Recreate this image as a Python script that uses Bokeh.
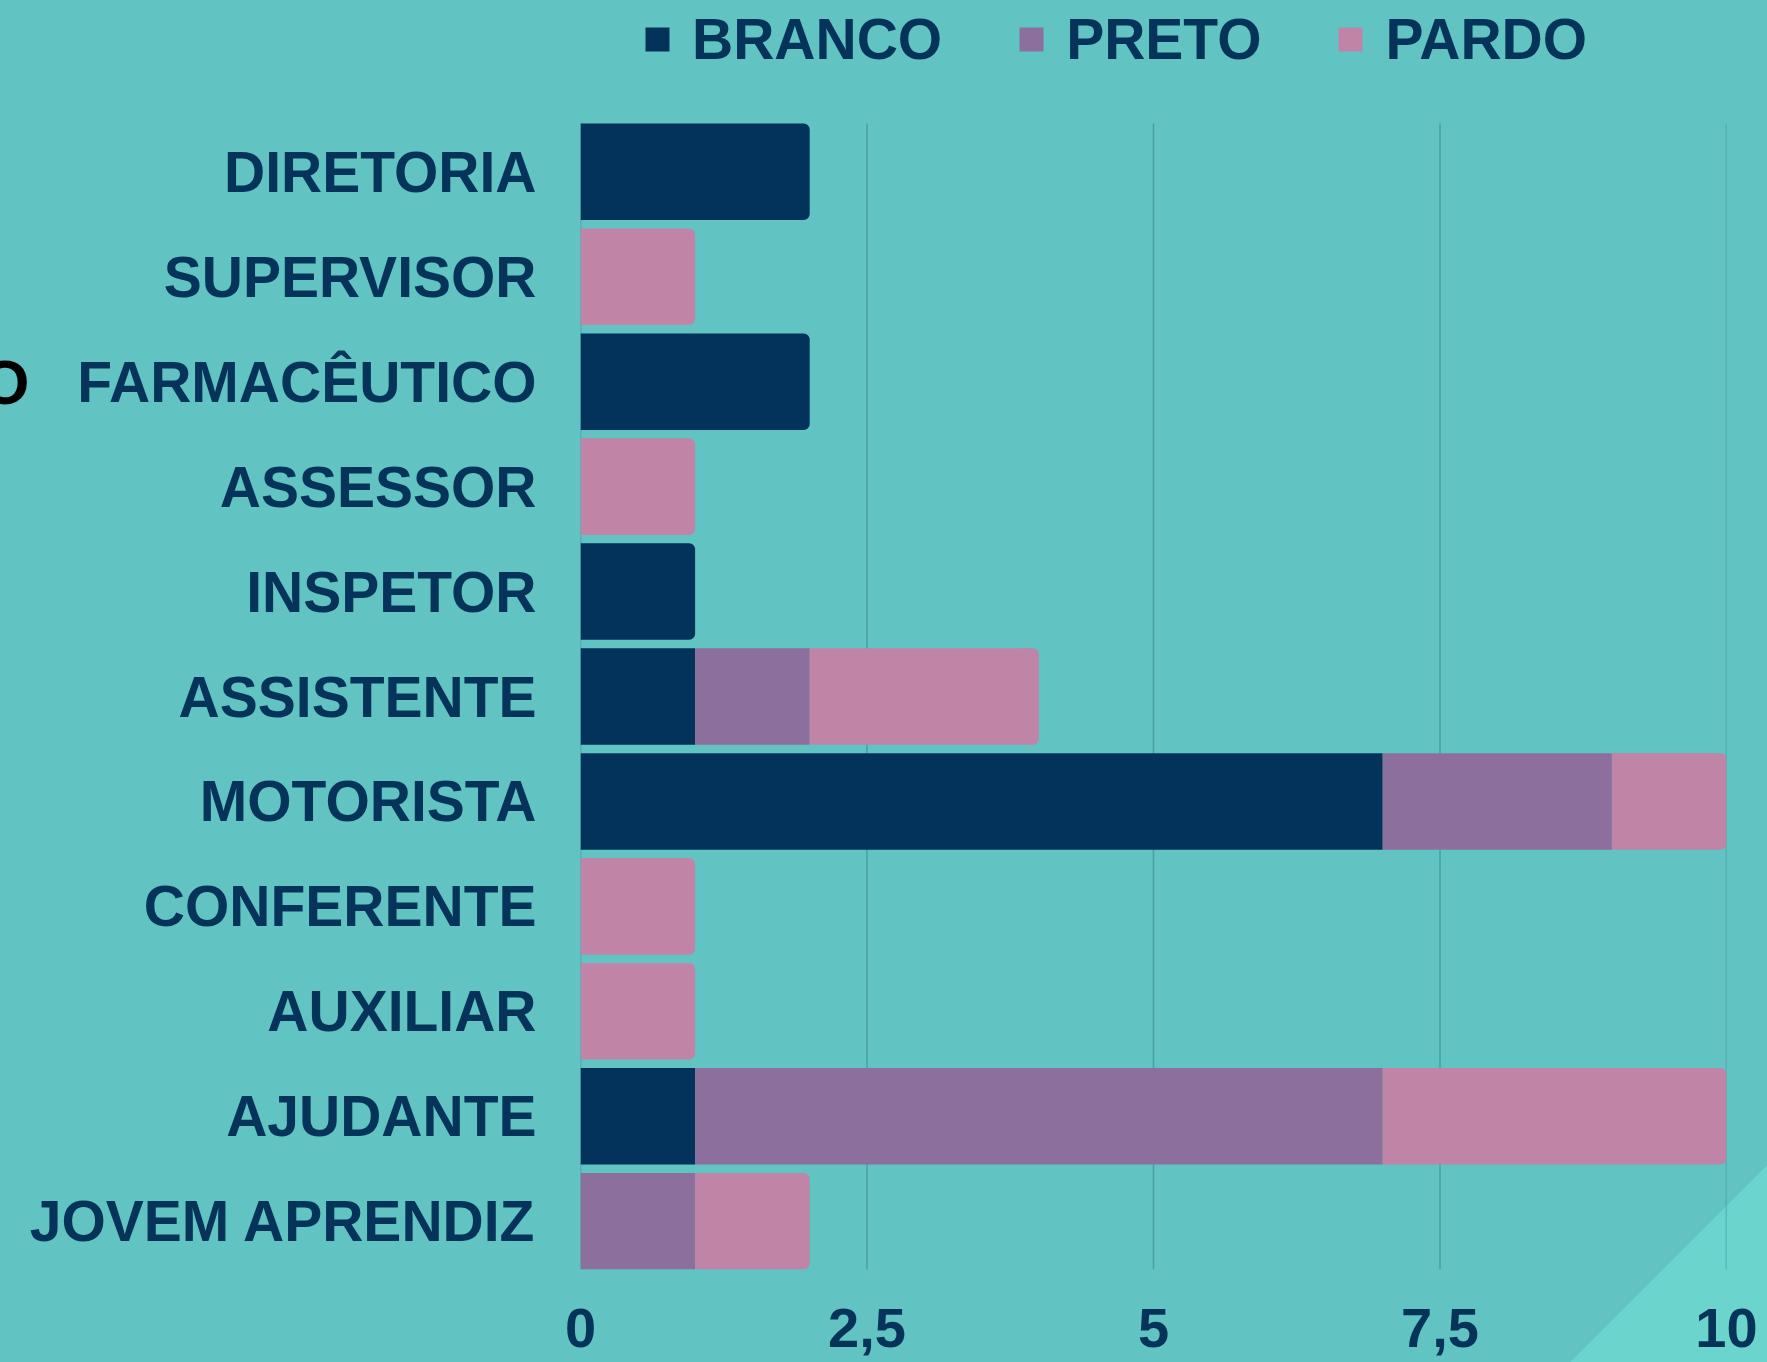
from bokeh.plotting import figure
from bokeh.models import (Range1d, FixedTicker, Legend, LegendItem,
                          ColumnDataSource, LinearAxis)
from bokeh.embed import file_html
from bokeh.resources import INLINE

categories = ["DIRETORIA", "SUPERVISOR", "FARMACÊUTICO", "ASSESSOR", "INSPETOR",
              "ASSISTENTE", "MOTORISTA", "CONFERENTE", "AUXILIAR", "AJUDANTE",
              "JOVEM APRENDIZ"]
series_names = ["BRANCO", "PRETO", "PARDO"]
branco = [2, 0, 2, 0, 1, 1, 7, 0, 0, 1, 0]
preto = [0, 0, 0, 0, 0, 1, 2, 0, 0, 6, 1]
pardo = [0, 1, 0, 1, 0, 2, 1, 1, 1, 3, 1]
x_ticks = [0, 2.5, 5, 7.5, 10]
x_tick_labels = ["0", "2,5", "5", "7,5", "10"]
side_text = "O"
side_text_row = "FARMACÊUTICO"

BG = "#61C3C2"
TRI = "#6BD5CD"
NAVY = "#06335A"
GRID = "#4A9FA5"
colors = ["#03335A", "#8C6F9C", "#BF84A6"]
FONT = "Liberation Sans"
BAR_H = 0.92

SHIFT = 30          # canvas part hidden beyond the page's left edge
W, H = 1767 + SHIFT, 1362
FRAME_LEFT = 580 + SHIFT
BARS_TOP, BARS_BOTTOM = 123, 1269   # pixel extent of the bars
n = len(categories)
gap = (1 - BAR_H) / 2
row_px = (BARS_BOTTOM - BARS_TOP) / (n - 2 * gap)
y_start = gap
y_end = n - gap + BARS_TOP / row_px   # frame reaches the top so the legend is inside

def row_pos(c):
    return n - categories.index(c) - 0.5

p = figure(width=W, height=H, output_backend="svg", toolbar_location=None,
           x_range=Range1d(0, 10), y_range=Range1d(y_start, y_end),
           min_border_left=FRAME_LEFT, min_border_right=41, min_border_top=0,
           min_border_bottom=H - BARS_BOTTOM)
p.background_fill_color = None
p.border_fill_color = None
p.outline_line_color = None
p.styles = {
    "margin-left": f"-{SHIFT}px",
    "background": f"linear-gradient(315deg, {TRI} 139px, {BG} 139px)",
}

# vertical grid lines spanning the bars
p.segment(x0=x_ticks, x1=x_ticks, y0=[gap] * len(x_ticks), y1=[n - gap] * len(x_ticks),
          line_color=GRID, line_width=1.5)

values = [branco, preto, pardo]
legend_items = []
lefts = [0] * n
for si, (name, vals) in enumerate(zip(series_names, values)):
    rest = [sum(v[i] for v in values[si + 1:]) for i in range(n)]
    groups = {True: dict(y=[], left=[], right=[]), False: dict(y=[], left=[], right=[])}
    for i, c in enumerate(categories):
        if vals[i] <= 0:
            continue
        g = groups[rest[i] == 0]
        g["y"].append(row_pos(c))
        g["left"].append(lefts[i])
        g["right"].append(lefts[i] + vals[i])
    legend_r = None
    for last, g in groups.items():
        r = p.hbar(y="y", left="left", right="right", height=BAR_H,
                   source=ColumnDataSource(g), fill_color=colors[si],
                   line_color=None,
                   border_radius=(0, 6, 6, 0) if last else 0)
        if legend_r is None and len(g["y"]) > 0:
            legend_r = r
    legend_items.append(LegendItem(label=name, renderers=[legend_r]))
    lefts = [lefts[i] + vals[i] for i in range(n)]

p.xgrid.grid_line_color = None
p.ygrid.grid_line_color = None

p.xaxis.ticker = FixedTicker(ticks=x_ticks)
p.xaxis.major_label_overrides = {t: l for t, l in zip(x_ticks, x_tick_labels)}
row_ticks = [row_pos(c) for c in categories]
p.yaxis.ticker = FixedTicker(ticks=row_ticks)
p.yaxis.major_label_overrides = {t: c for t, c in zip(row_ticks, categories)}

side_axis = LinearAxis(ticker=FixedTicker(ticks=[row_pos(side_text_row)]),
                       major_label_overrides={row_pos(side_text_row): side_text})
p.add_layout(side_axis, "left")

for ax in (p.xaxis[0], p.yaxis[0], side_axis):
    ax.axis_line_color = None
    ax.major_tick_line_color = None
    ax.minor_tick_line_color = None
    ax.major_tick_out = 0
    ax.major_tick_in = 0
    ax.minor_tick_out = 0
    ax.minor_tick_in = 0
    ax.major_label_text_font = FONT
    ax.major_label_text_font_style = "bold"
    ax.major_label_text_color = NAVY
p.xaxis[0].major_label_text_font_size = "56px"
p.yaxis[0].major_label_text_font_size = "57px"
p.xaxis[0].major_label_standoff = 39
p.yaxis[0].major_label_standoff = 44
side_axis.major_label_text_font_size = "63px"
side_axis.major_label_text_color = "black"
side_axis.major_label_standoff = -3

legend = Legend(items=legend_items, orientation="horizontal",
                location=(62, BARS_BOTTOM - 72),
                glyph_width=30, glyph_height=30, label_standoff=20, spacing=74,
                label_text_font=FONT, label_text_font_style="bold",
                label_text_font_size="57px", label_text_color=NAVY,
                background_fill_alpha=0, border_line_alpha=0, padding=0, margin=0)
p.add_layout(legend, "center")

open("out.html", "w").write(file_html(p, INLINE))
